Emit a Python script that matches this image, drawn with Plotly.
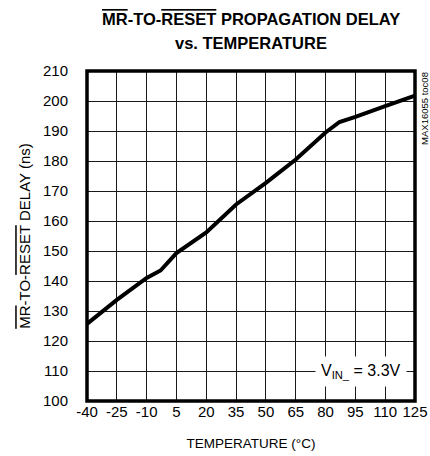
import plotly.graph_objects as go

temperature = [-40, -25, -10, -3, 5, 20, 35, 50, 65, 80, 87, 95, 110, 125]
delay_ns = [125.7, 133.7, 141.0, 143.5, 149.3, 156.2, 165.5, 172.7, 180.5, 189.5, 193.0, 194.7, 198.3, 201.8]

x_ticks = [-40, -25, -10, 5, 20, 35, 50, 65, 80, 95, 110, 125]
y_ticks = [100, 110, 120, 130, 140, 150, 160, 170, 180, 190, 200, 210]

FONT = "Liberation Sans, Arial, sans-serif"
OL = '<span style="text-decoration:overline">{}</span>'

fig = go.Figure()
fig.add_trace(go.Scatter(x=temperature, y=delay_ns, mode="lines",
                         line=dict(color="black", width=4), hoverinfo="skip"))

fig.update_layout(
    width=430, height=456,
    margin=dict(l=87, r=15, t=71, b=55, autoexpand=False),
    paper_bgcolor="white", plot_bgcolor="white",
    showlegend=False,
    font=dict(family=FONT, size=15, color="black"),
    xaxis=dict(range=[-40, 125], tickmode="array", tickvals=x_ticks,
               ticktext=[str(v) for v in x_ticks],
               showgrid=True, gridcolor="#1a1a1a", gridwidth=1, zeroline=False,
               showline=False,
               ticks="outside", ticklen=0, tickcolor="rgba(0,0,0,0)",
               tickfont=dict(size=15), ticklabeloverflow="allow",
               ticklabelstandoff=-3,
               title=dict(text="TEMPERATURE (°C)", font=dict(size=13.5), standoff=19)),
    yaxis=dict(range=[100, 210], tickmode="array", tickvals=y_ticks,
               ticktext=[str(v) for v in y_ticks],
               showgrid=True, gridcolor="#1a1a1a", gridwidth=1, zeroline=False,
               showline=False,
               ticks="outside", ticklen=15, tickcolor="rgba(0,0,0,0)",
               tickfont=dict(size=15),
               title=dict(text=OL.format("MR") + "-TO-" + OL.format("RESET") + " DELAY (ns)",
                          font=dict(size=15), standoff=8)),
    shapes=[dict(type="rect", xref="paper", yref="paper", x0=0, x1=1, y0=0, y1=1,
                 line=dict(color="black", width=3.5), layer="above")],
)

fig.add_annotation(xref="paper", yref="paper", x=0.5, y=1.1576, yanchor="middle",
                   text="<b>" + OL.format("MR") + "-TO-" + OL.format("RESET") + " PROPAGATION DELAY</b>",
                   showarrow=False, font=dict(size=16.5, family=FONT))
fig.add_annotation(xref="paper", yref="paper", x=0.5, y=1.0848, yanchor="middle",
                   text="<b>vs. TEMPERATURE</b>",
                   showarrow=False, font=dict(size=16.5, family=FONT))
fig.add_annotation(xref="paper", yref="paper", x=1.0, xanchor="center", xshift=10,
                   y=0.885, yanchor="middle",
                   text="MAX16055 toc08", textangle=-90, showarrow=False,
                   font=dict(size=9.5, family=FONT, color="black"))
fig.add_annotation(x=98, y=110, text="V<sub>IN_</sub> = 3.3V", showarrow=False,
                   bgcolor="white", borderpad=5, font=dict(size=16, family=FONT))

fig.write_html("out.html", config={"displayModeBar": False},
               post_script="document.body.style.margin='0';document.body.style.overflow='hidden';")
